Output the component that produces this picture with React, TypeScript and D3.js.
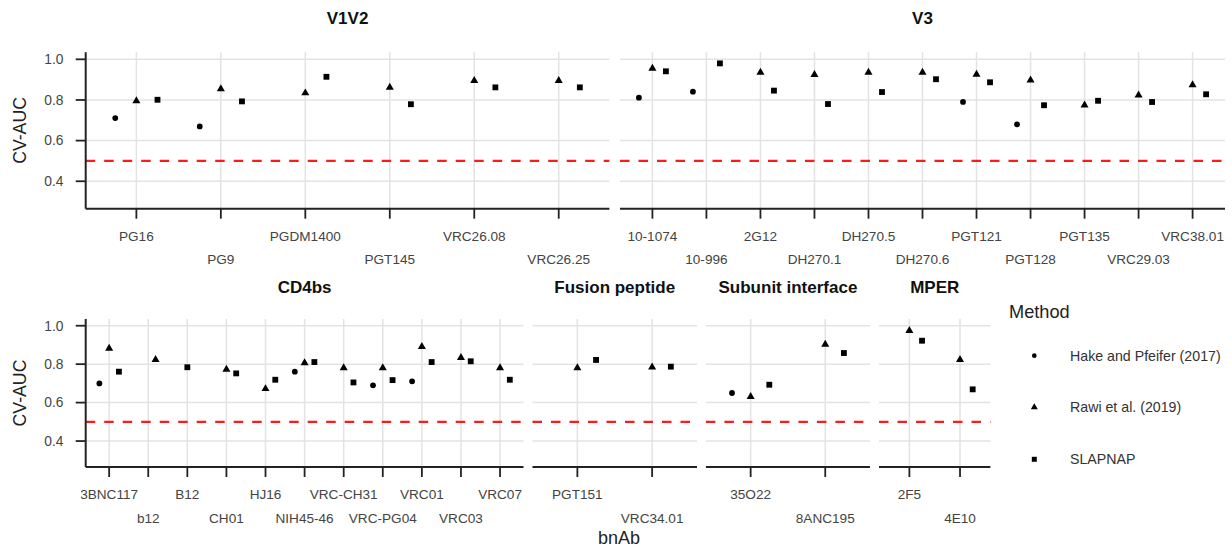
import React from "react";
import * as d3 from "d3";

// ---- Data (NaN = row present but missing value, null = no row for that method) ----
const methods = ["Hake and Pfeifer (2017)", "Rawi et al. (2019)", "SLAPNAP"];

const v1v2Cats = ["PG16", "PG9", "PGDM1400", "PGT145", "VRC26.08", "VRC26.25"];
const v1v2Hake = [0.711, 0.67, NaN, NaN, NaN, NaN];
const v1v2Rawi = [0.795, 0.854, 0.834, 0.862, 0.895, 0.895];
const v1v2Slap = [0.801, 0.793, 0.914, 0.779, 0.862, 0.862];

const v3Cats = ["10-1074", "10-996", "2G12", "DH270.1", "DH270.5", "DH270.6", "PGT121", "PGT128", "PGT135", "VRC29.03", "VRC38.01"];
const v3Hake = [0.811, 0.841, NaN, NaN, NaN, NaN, 0.79, 0.68, NaN, NaN, NaN];
const v3Rawi = [0.955, NaN, 0.936, 0.924, 0.936, 0.936, 0.926, 0.897, 0.774, 0.824, 0.874];
const v3Slap = [0.941, 0.98, 0.846, 0.78, 0.839, 0.902, 0.887, 0.774, 0.796, 0.79, 0.828];

const cd4Cats = ["3BNC117", "b12", "B12", "CH01", "HJ16", "NIH45-46", "VRC-CH31", "VRC-PG04", "VRC01", "VRC03", "VRC07"];
const cd4Hake = [0.7, NaN, null, NaN, NaN, 0.761, NaN, 0.69, 0.711, NaN, NaN];
const cd4Rawi = [0.882, 0.823, null, 0.773, 0.672, 0.806, 0.781, 0.781, 0.891, 0.834, 0.781];
const cd4Slap = [0.761, null, 0.784, 0.752, 0.719, 0.811, 0.705, 0.717, 0.811, 0.815, 0.719];

const fpCats = ["PGT151", "VRC34.01"];
const fpHake = [NaN, NaN];
const fpRawi = [0.781, 0.784];
const fpSlap = [0.822, 0.787];

const siCats = ["35O22", "8ANC195"];
const siHake = [0.65, NaN];
const siRawi = [0.631, 0.903];
const siSlap = [0.693, 0.858];

const mperCats = ["2F5", "4E10"];
const mperHake = [NaN, NaN];
const mperRawi = [0.974, 0.823];
const mperSlap = [0.922, 0.669];

const yTicks = [0.4, 0.6, 0.8, 1.0];
const yLimits = [0.3, 1.0];
const chanceLevel = 0.5;

// ---- Layout ----
const FONT = "'Liberation Sans', Arial, Helvetica, sans-serif";
const rows = [
  { top: 52.2, bottom: 208.7, titleBase: 24 },
  { top: 319, bottom: 467, titleBase: 292.5 },
];

const panels = [
  { title: "V1V2", cats: v1v2Cats, vals: [v1v2Hake, v1v2Rawi, v1v2Slap], x0: 85.7, x1: 609.4, row: 0, yAxis: true },
  { title: "V3", cats: v3Cats, vals: [v3Hake, v3Rawi, v3Slap], x0: 620, x1: 1225, row: 0, yAxis: false },
  { title: "CD4bs", cats: cd4Cats, vals: [cd4Hake, cd4Rawi, cd4Slap], x0: 85.7, x1: 523.5, row: 1, yAxis: true },
  { title: "Fusion peptide", cats: fpCats, vals: [fpHake, fpRawi, fpSlap], x0: 532.5, x1: 697, row: 1, yAxis: false },
  { title: "Subunit interface", cats: siCats, vals: [siHake, siRawi, siSlap], x0: 705.9, x1: 870, row: 1, yAxis: false },
  { title: "MPER", cats: mperCats, vals: [mperHake, mperRawi, mperSlap], x0: 879, x1: 990.4, row: 1, yAxis: false },
];

const symbolTypes = [d3.symbolCircle, d3.symbolTriangle, d3.symbolSquare];
const symbolSizes = [26, 28, 34];
const legendSizes = [17, 21, 25];

const GRID = "#e3e3e3";
const AXIS = "#222";
const TICKTXT = "#444";

function Panel({ p }: { p: any }) {
  const r = rows[p.row];
  const span = yLimits[1] - yLimits[0];
  const y = d3
    .scaleLinear()
    .domain([yLimits[0] - span * 0.05, yLimits[1] + span * 0.05])
    .range([r.bottom, r.top]);
  const x = d3.scalePoint<string>().domain(p.cats).range([p.x0, p.x1]).padding(0.6);
  const step = x.step();
  const dodgeW = 0.75;

  const points: any[] = [];
  p.cats.forEach((c: string, i: number) => {
    const present = [0, 1, 2].filter((m) => p.vals[m][i] !== null);
    const n = present.length;
    present.forEach((m, k) => {
      const v = p.vals[m][i];
      if (v === null || Number.isNaN(v)) return;
      const off = (k - (n - 1) / 2) * (dodgeW / n) * step;
      points.push({ key: `${c}-${m}`, cx: (x(c) as number) + off, cy: y(v), m });
    });
  });

  return (
    <g>
      {yTicks.map((t) => (
        <line key={"h" + t} x1={p.x0} x2={p.x1} y1={y(t)} y2={y(t)} stroke={GRID} strokeWidth={1.5} />
      ))}
      {p.cats.map((c: string) => (
        <line key={"v" + c} x1={x(c)} x2={x(c)} y1={r.top} y2={r.bottom} stroke={GRID} strokeWidth={1.5} />
      ))}
      <line
        x1={p.x0}
        x2={p.x1}
        y1={y(chanceLevel)}
        y2={y(chanceLevel)}
        stroke="#ff1a1a"
        strokeWidth={2.2}
        strokeDasharray="9.5 9"
      />
      <line x1={p.x0} x2={p.x1} y1={r.bottom} y2={r.bottom} stroke={AXIS} strokeWidth={2} />
      {p.cats.map((c: string, i: number) => (
        <g key={"t" + c}>
          <line x1={x(c)} x2={x(c)} y1={r.bottom} y2={r.bottom + 10} stroke={AXIS} strokeWidth={1.8} />
          <text
            x={x(c)}
            y={r.bottom + (i % 2 === 0 ? 27.3 : 50.8) + 4.8}
            textAnchor="middle"
            fontSize={13.6}
            fill={TICKTXT}
            fontFamily={FONT}
          >
            {c}
          </text>
        </g>
      ))}
      {p.yAxis && (
        <g>
          <line x1={p.x0} x2={p.x0} y1={r.top} y2={r.bottom} stroke={AXIS} strokeWidth={2} />
          {yTicks.map((t) => (
            <g key={"yt" + t}>
              <line x1={p.x0 - 10} x2={p.x0} y1={y(t)} y2={y(t)} stroke={AXIS} strokeWidth={1.8} />
              <text
                x={63.5}
                y={y(t) + 4.8}
                textAnchor="end"
                fontSize={13.8}
                fill={TICKTXT}
                fontFamily={FONT}
              >
                {t.toFixed(1)}
              </text>
            </g>
          ))}
          <text
            transform={`translate(20,${(r.top + r.bottom) / 2}) rotate(-90)`}
            textAnchor="middle"
            dominantBaseline="central"
            fontSize={17.7}
            fill="#222"
            fontFamily={FONT}
          >
            CV-AUC
          </text>
        </g>
      )}
      <text
        x={(p.x0 + p.x1) / 2}
        y={r.titleBase}
        textAnchor="middle"
        fontSize={17}
        fontWeight="bold"
        fill="#111"
        fontFamily={FONT}
      >
        {p.title}
      </text>
      {points.map((pt) => (
        <path
          key={pt.key}
          transform={`translate(${pt.cx},${pt.cy})`}
          d={d3.symbol().type(symbolTypes[pt.m]).size(symbolSizes[pt.m])() as string}
          fill="#000"
        />
      ))}
    </g>
  );
}

export default function App() {
  const legendY = [355.7, 407.3, 459.3];
  return (
    <svg
      width={1232}
      height={547}
      style={{ position: "absolute", left: 0, top: 0, background: "#fff" }}
      fontFamily={FONT}
    >
      <rect x={0} y={0} width={1232} height={547} fill="#fff" />
      {panels.map((p) => (
        <Panel key={p.title} p={p} />
      ))}
      <text x={619} y={538} textAnchor="middle" dominantBaseline="central" fontSize={18} fill="#222" fontFamily={FONT}>
        bnAb
      </text>
      <text x={1009} y={311.7} dominantBaseline="central" fontSize={18.2} fill="#222" fontFamily={FONT}>
        Method
      </text>
      {methods.map((m, i) => (
        <g key={m}>
          <path
            transform={`translate(1034.3,${legendY[i]})`}
            d={d3.symbol().type(symbolTypes[i]).size(legendSizes[i])() as string}
            fill="#000"
          />
          <text x={1070} y={legendY[i]} dominantBaseline="central" fontSize={14.2} fill="#333" fontFamily={FONT}>
            {m}
          </text>
        </g>
      ))}
    </svg>
  );
}
